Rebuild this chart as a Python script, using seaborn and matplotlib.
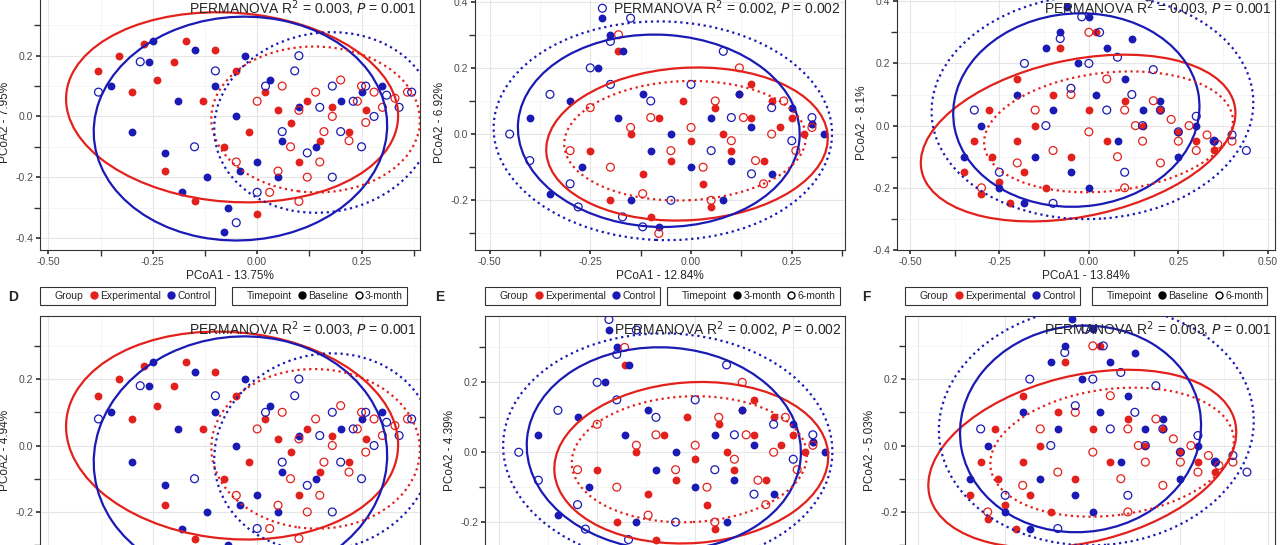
import numpy as np
import pandas as pd
import seaborn as sns
import matplotlib
matplotlib.use("Agg")
import matplotlib.pyplot as plt
from matplotlib.patches import Ellipse
from matplotlib.lines import Line2D
from matplotlib.ticker import FormatStrFormatter, AutoMinorLocator

RED = "#E3211C"
BLUE = "#1A1AB5"

# ---- Panel A / D point clouds (estimated) ----
A_exp_base_x = [-0.38,-0.33,-0.30,-0.27,-0.24,-0.20,-0.17,-0.13,-0.10,-0.08,-0.05,-0.02,0.02,0.05,0.08,0.12,0.15,0.18,0.22,0.26,-0.22,-0.15,0.00,0.10]
A_exp_base_y = [0.15,0.20,0.08,0.24,0.12,0.18,0.25,0.05,0.22,-0.10,0.15,-0.05,0.08,0.02,-0.02,0.05,-0.08,0.03,-0.05,0.02,-0.18,-0.28,-0.32,-0.15]
A_ctl_base_x = [-0.35,-0.30,-0.26,-0.22,-0.19,-0.15,-0.12,-0.10,-0.07,-0.05,-0.03,0.0,0.03,0.06,0.10,0.14,0.20,0.25,0.30,-0.25,-0.18,-0.08,-0.04,0.05]
A_ctl_base_y = [0.10,-0.05,0.18,-0.12,0.05,0.22,-0.20,0.10,-0.30,0.00,0.20,-0.15,0.12,-0.08,0.03,-0.10,0.05,0.08,0.10,0.25,-0.25,-0.38,-0.18,-0.20]
A_exp_post_x = [-0.05,0.00,0.03,0.06,0.08,0.10,0.12,0.14,0.16,0.18,0.20,0.22,0.24,0.26,0.28,0.30,0.33,0.36,0.05,0.15,0.25,0.10]
A_exp_post_y = [-0.15,0.05,-0.25,0.10,-0.10,0.02,-0.20,0.08,-0.05,0.00,0.12,-0.08,0.05,-0.02,0.08,0.03,0.06,0.08,-0.18,-0.15,0.10,-0.28]
A_ctl_post_x = [-0.38,-0.28,-0.15,-0.05,0.02,0.06,0.09,0.12,0.15,0.18,0.20,0.23,0.26,0.28,0.31,0.34,0.37,0.10,0.18,0.25,-0.10,0.00]
A_ctl_post_y = [0.08,0.18,-0.10,-0.35,0.10,-0.05,0.15,-0.12,0.03,0.10,-0.05,0.05,0.10,0.00,0.07,0.03,0.08,0.20,-0.20,-0.10,0.15,-0.25]

# ---- Panel B / E ----
B_exp_base_x = [-0.25,-0.2,-0.15,-0.12,-0.08,-0.05,-0.02,0.0,0.03,0.06,0.08,0.1,0.12,0.15,0.18,0.2,0.22,0.25,0.28,0.3,-0.1,0.05,0.15,-0.18]
B_exp_base_y = [-0.05,-0.2,0.0,-0.12,0.05,-0.08,0.1,-0.02,-0.15,0.08,0.0,-0.05,0.12,0.05,-0.08,0.1,0.02,0.05,0.0,0.03,-0.25,-0.22,0.15,0.25]
B_ctl_base_x = [-0.4,-0.35,-0.3,-0.27,-0.23,-0.2,-0.18,-0.15,-0.12,-0.1,-0.05,0.0,0.05,0.1,0.15,0.2,0.25,0.3,0.33,-0.22,-0.17,0.08,-0.08,0.12]
B_ctl_base_y = [0.05,-0.18,0.1,-0.1,0.2,0.3,0.05,-0.2,0.12,-0.05,0.0,-0.1,0.05,-0.08,0.02,-0.12,0.08,0.03,0.0,0.35,0.25,-0.2,-0.28,0.12]
B_exp_post_x = [-0.3,-0.25,-0.2,-0.15,-0.12,-0.1,-0.05,0.0,0.03,0.06,0.1,0.13,0.16,0.2,0.23,0.26,0.3,-0.08,0.05,0.12,-0.18,0.18]
B_exp_post_y = [-0.05,0.08,-0.1,0.02,-0.18,0.05,-0.05,0.02,-0.1,0.1,-0.02,0.05,-0.08,0.0,0.1,-0.05,0.02,-0.3,-0.2,0.2,0.3,-0.15]
B_ctl_post_x = [-0.45,-0.4,-0.35,-0.3,-0.25,-0.22,-0.2,-0.17,-0.15,-0.1,-0.05,0.0,0.05,0.1,0.15,0.2,0.25,0.3,-0.28,-0.12,0.08,-0.2]
B_ctl_post_y = [0.0,-0.08,0.12,-0.15,0.2,0.38,0.28,-0.25,0.35,0.1,-0.2,0.15,-0.05,0.05,-0.12,0.08,-0.02,0.05,-0.22,-0.28,0.25,0.15]

# ---- Panel C / F ----
C_exp_base_x = [-0.35,-0.32,-0.3,-0.27,-0.25,-0.22,-0.2,-0.18,-0.15,-0.12,-0.1,-0.05,0.0,0.05,0.1,0.15,0.2,0.25,0.3,0.35,-0.28,-0.08,0.02,-0.2]
C_exp_base_y = [-0.15,-0.05,-0.22,-0.1,-0.18,-0.25,-0.05,-0.15,0.0,-0.2,0.1,-0.1,0.05,-0.05,0.08,0.0,0.05,-0.02,-0.05,-0.08,0.05,0.25,0.3,0.15]
C_ctl_base_x = [-0.35,-0.3,-0.25,-0.2,-0.15,-0.12,-0.1,-0.08,-0.05,-0.03,0.0,0.02,0.05,0.08,0.1,0.15,0.2,0.25,0.3,0.35,-0.18,-0.06,0.0,0.12]
C_ctl_base_y = [-0.1,0.0,-0.2,0.1,-0.1,0.25,0.05,0.3,-0.15,0.2,0.35,0.1,0.25,-0.05,0.15,0.05,0.08,-0.1,0.0,-0.05,-0.25,0.38,-0.2,0.28]
C_exp_post_x = [-0.3,-0.2,-0.15,-0.1,-0.05,0.0,0.05,0.08,0.1,0.13,0.15,0.18,0.2,0.23,0.25,0.28,0.3,0.33,0.36,0.4,0.0,0.1]
C_exp_post_y = [-0.2,-0.12,0.05,-0.08,0.1,-0.02,0.15,-0.1,0.05,0.0,-0.05,0.08,-0.12,0.02,-0.05,0.0,-0.08,-0.03,-0.06,-0.05,0.3,-0.2]
C_ctl_post_x = [-0.32,-0.25,-0.18,-0.12,-0.08,-0.05,-0.02,0.0,0.03,0.05,0.08,0.12,0.15,0.2,0.25,0.3,0.35,0.4,0.44,0.1,-0.1,0.18]
C_ctl_post_y = [0.05,-0.15,0.2,0.0,0.28,0.12,0.35,0.2,0.3,0.05,0.22,0.1,0.0,0.05,-0.02,0.03,-0.05,-0.03,-0.08,-0.15,-0.25,0.18]

# Ellipses: (cx, cy, width, height, angle) for exp-solid, ctl-solid, exp-dotted, ctl-dotted
A_ell = [(-0.06, 0.03, 0.80, 0.62, -10), (-0.04, -0.04, 0.70, 0.74, -15), (0.14, -0.01, 0.50, 0.48, -10), (0.16, -0.02, 0.52, 0.60, -15)]
B_ell = [(-0.01, -0.03, 0.70, 0.46, 5), (-0.08, 0.01, 0.70, 0.58, -5), (-0.015, -0.02, 0.60, 0.36, 3), (-0.07, 0.01, 0.84, 0.66, -3)]
C_ell = [(-0.03, -0.04, 0.90, 0.50, 15), (-0.035, 0.05, 0.69, 0.62, 10), (0.055, -0.02, 0.70, 0.38, 8), (0.01, 0.06, 0.90, 0.72, 5)]

panel_letters = ["A", "B", "C", "D", "E", "F"]
x_labels = ["PCoA1 - 13.75%", "PCoA1 - 12.84%", "PCoA1 - 13.84%", "PCoA1 - 13.75%", "PCoA1 - 12.84%", "PCoA1 - 13.84%"]
y_labels = ["PCoA2 - 7.95%", "PCoA2 - 6.92%", "PCoA2 - 8.1%", "PCoA2 - 4.94%", "PCoA2 - 4.39%", "PCoA2 - 5.03%"]
r2_vals = ["0.003", "0.002", "0.003", "0.003", "0.002", "0.003"]
p_vals = ["0.001", "0.002", "0.001", "0.001", "0.002", "0.001"]
time_labels = [("Baseline", "3-month"), ("3-month", "6-month"), ("Baseline", "6-month")] * 2

sns.set_theme(style="whitegrid")
plt.rcParams['font.family'] = ['Liberation Sans', 'DejaVu Sans']

W, H = 1280, 545
fig = plt.figure(figsize=(12.8, 5.45), dpi=100)

def rect(l, r, t, b):
    return [l / W, (H - b) / H, (r - l) / W, (b - t) / H]

rects = [rect(40, 420, -5, 250), rect(475, 845, -5, 250), rect(897, 1275, -5, 250),
         rect(40, 420, 316, 585), rect(485, 845, 316, 585), rect(905, 1275, 316, 585)]
xlims = [(-0.52, 0.39), (-0.536, 0.382), (-0.536, 0.52)] * 2
ylims = [(-0.44, 0.40), (-0.35, 0.42), (-0.40, 0.42), (-0.42, 0.39), (-0.38, 0.39), (-0.42, 0.39)]

data_sets = [
    (A_exp_base_x, A_exp_base_y, A_ctl_base_x, A_ctl_base_y, A_exp_post_x, A_exp_post_y, A_ctl_post_x, A_ctl_post_y, A_ell),
    (B_exp_base_x, B_exp_base_y, B_ctl_base_x, B_ctl_base_y, B_exp_post_x, B_exp_post_y, B_ctl_post_x, B_ctl_post_y, B_ell),
    (C_exp_base_x, C_exp_base_y, C_ctl_base_x, C_ctl_base_y, C_exp_post_x, C_exp_post_y, C_ctl_post_x, C_ctl_post_y, C_ell),
]

for i in range(6):
    ax = fig.add_axes(rects[i])
    ebx, eby, cbx, cby, epx, epy, cpx, cpy, ell = data_sets[i % 3]
    sns.scatterplot(x=ebx, y=eby, ax=ax, color=RED, s=32, linewidth=0, zorder=3)
    sns.scatterplot(x=cbx, y=cby, ax=ax, color=BLUE, s=32, linewidth=0, zorder=3)
    sns.scatterplot(x=epx, y=epy, ax=ax, s=32, facecolor="none", edgecolor=RED, linewidth=0.9, zorder=3)
    sns.scatterplot(x=cpx, y=cpy, ax=ax, s=32, facecolor="none", edgecolor=BLUE, linewidth=0.9, zorder=3)
    for (cx, cy, w, h, a), col, ls in zip(ell, [RED, BLUE, RED, BLUE], ["-", "-", ":", ":"]):
        ax.add_patch(Ellipse((cx, cy), w, h, angle=a, fill=False, edgecolor=col,
                             linestyle=ls, linewidth=1.6, zorder=4))
    ax.set_xticks([-0.5, -0.25, 0, 0.25, 0.5])
    ax.set_yticks([-0.4, -0.2, 0, 0.2, 0.4])
    ax.set_xlim(*xlims[i]); ax.set_ylim(*ylims[i])
    ax.xaxis.set_major_formatter(FormatStrFormatter("%.2f"))
    ax.yaxis.set_major_formatter(FormatStrFormatter("%.1f"))
    ax.xaxis.set_minor_locator(AutoMinorLocator(2))
    ax.yaxis.set_minor_locator(AutoMinorLocator(2))
    ax.grid(which="major", color="#E6E6E6", linewidth=0.8)
    ax.grid(which="minor", color="#F2F2F2", linewidth=0.5)
    ax.tick_params(labelsize=7.5, colors="#4D4D4D", length=3, pad=2)
    ax.tick_params(axis="both", which="both", bottom=True, left=True, color="#333333")
    for s in ax.spines.values():
        s.set_color("#333333"); s.set_linewidth(0.8)
    ax.set_xlabel(x_labels[i], fontsize=8.5, labelpad=2)
    ax.set_ylabel(y_labels[i], fontsize=8.5, labelpad=3)
    ax.text(0.99, 1 - 14 / (rects[i][3] * H), "PERMANOVA R$^2$ = %s, $\\it{P}$ = %s" % (r2_vals[i], p_vals[i]),
            transform=ax.transAxes, ha="right", va="center", fontsize=10, zorder=6)
    if i < 3:
        continue
    blank = Line2D([], [], linestyle="none")
    g_handles = [blank,
                 Line2D([], [], marker="o", color=RED, linestyle="none", markersize=5),
                 Line2D([], [], marker="o", color=BLUE, linestyle="none", markersize=5)]
    t_handles = [blank,
                 Line2D([], [], marker="o", color="black", linestyle="none", markersize=5),
                 Line2D([], [], marker="o", markerfacecolor="none", markeredgecolor="black", linestyle="none", markersize=5)]
    leg1 = ax.legend(g_handles, ["Group", "Experimental", "Control"], ncol=3, loc="lower left",
                     bbox_to_anchor=(0.0, 1.04), fontsize=7.5, frameon=True, handlelength=0.8,
                     handletextpad=0.2, columnspacing=0.6, borderpad=0.4, fancybox=False, borderaxespad=0)
    leg1.get_frame().set_edgecolor("black"); leg1.get_frame().set_linewidth(0.8)
    ax.add_artist(leg1)
    tl = time_labels[i]
    leg2 = ax.legend(t_handles, ["Timepoint", tl[0], tl[1]], ncol=3, loc="lower left",
                     bbox_to_anchor=(0.505, 1.04), fontsize=7.5, frameon=True, handlelength=0.8,
                     handletextpad=0.2, columnspacing=0.6, borderpad=0.4, fancybox=False, borderaxespad=0)
    leg2.get_frame().set_edgecolor("black"); leg2.get_frame().set_linewidth(0.8)
    lx = [8, 435, 862][i % 3]
    fig.text(lx / W, (H - 297) / H, panel_letters[i], fontsize=10, fontweight="bold", va="center")

fig.savefig("out.png", dpi=100)
